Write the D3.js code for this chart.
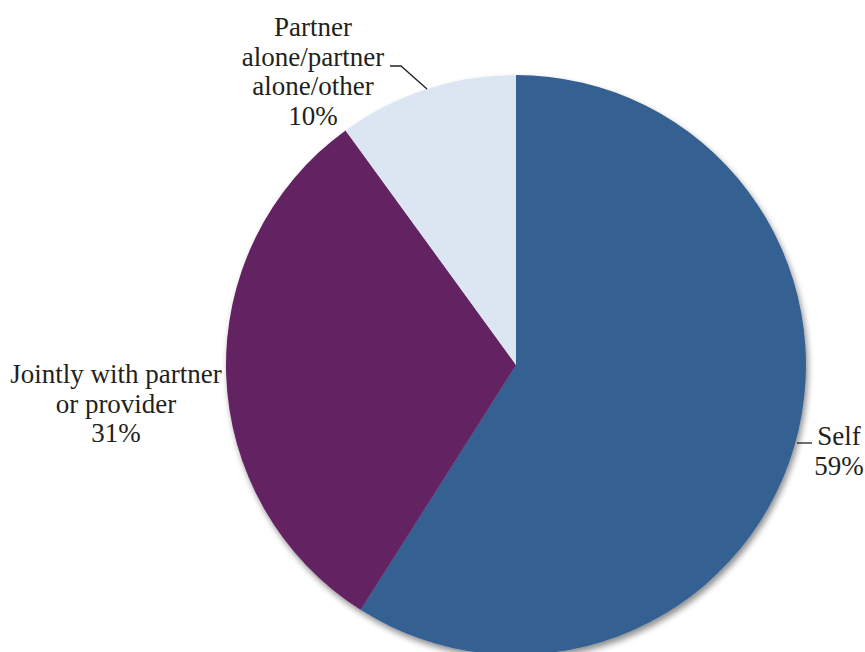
<!DOCTYPE html>
<html>
<head>
<meta charset="utf-8">
<script src="https://cdn.jsdelivr.net/npm/d3@7"></script>
<style>
  html, body { margin: 0; padding: 0; background: #fff; }
  svg { display: block; }
</style>
</head>
<body>
<svg id="chart" width="865" height="652"></svg>
<script>
// Who made the decision
const categories = ["Self", "Jointly with partner or provider", "Partner alone/partner alone/other"];
const values = [59, 31, 10];
const colors = ["#366092", "#632062", "#dce6f2"];
const labelLines = [
  ["Self", "59%"],
  ["Jointly with partner", "or provider", "31%"],
  ["Partner", "alone/partner", "alone/other", "10%"]
];

const width = 865, height = 652;
const cx = 516, cy = 365, radius = 290;

const svg = d3.select("#chart");

// soft drop shadow under the pie
const defs = svg.append("defs");
const f = defs.append("filter").attr("id", "shadow")
  .attr("x", "-10%").attr("y", "-10%").attr("width", "120%").attr("height", "120%");
f.append("feGaussianBlur").attr("in", "SourceAlpha").attr("stdDeviation", 3);
f.append("feOffset").attr("dx", 2).attr("dy", 4).attr("result", "off");
f.append("feComponentTransfer").append("feFuncA").attr("type", "linear").attr("slope", 0.45);
const merge = f.append("feMerge");
merge.append("feMergeNode");
merge.append("feMergeNode").attr("in", "SourceGraphic");

const pie = d3.pie().sort(null).value(d => d)(values);
const arc = d3.arc().innerRadius(0).outerRadius(radius);

const g = svg.append("g").attr("transform", `translate(${cx},${cy})`);
g.append("g").attr("filter", "url(#shadow)")
  .selectAll("path").data(pie).join("path")
  .attr("d", arc)
  .attr("fill", (d, i) => colors[i]);

// label layout: anchor centre and first baseline
const labelPos = [
  { x: 839, y: 445 },
  { x: 116, y: 383 },
  { x: 313, y: 36 }
];
const lineH = 29.5;

labelLines.forEach((lines, i) => {
  const t = svg.append("text")
    .attr("text-anchor", "middle")
    .attr("font-family", "Liberation Serif")
    .attr("font-size", 27)
    .attr("fill", "#231f20");
  lines.forEach((s, j) => {
    t.append("tspan").attr("x", labelPos[i].x).attr("y", labelPos[i].y + j * lineH).text(s);
  });
});

// leader lines from slice edge to label
const leader = d3.line();
svg.append("path")
  .attr("d", leader([[797, 443], [812, 443]]))
  .attr("fill", "none").attr("stroke", "#231f20").attr("stroke-width", 1.3);
svg.append("path")
  .attr("d", leader([[390, 66], [401, 66], [427, 89]]))
  .attr("fill", "none").attr("stroke", "#231f20").attr("stroke-width", 1.3);
</script>
</body>
</html>
